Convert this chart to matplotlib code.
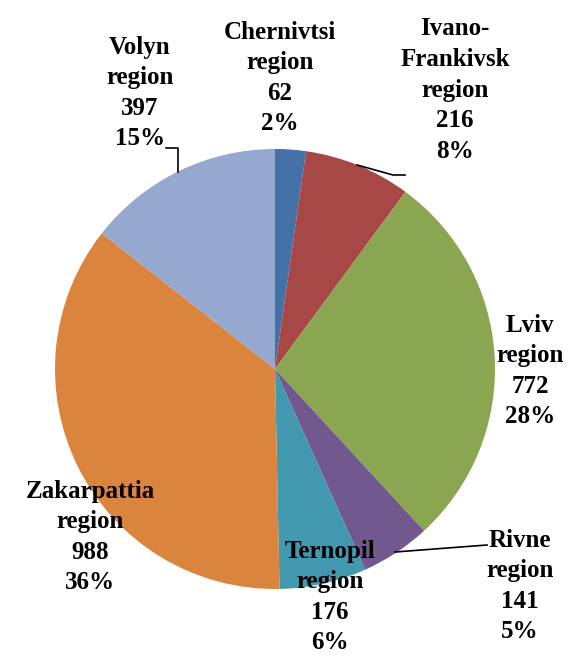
import matplotlib.pyplot as plt

# データ
regions = ['Chernivtsi\nregion', 'Ivano-\nFrankivsk\nregion', 'Lviv\nregion', 'Rivne\nregion',
           'Ternopil\nregion', 'Zakarpattia\nregion', 'Volyn\nregion']
values = [62, 216, 772, 141, 176, 988, 397]
percents = ['2%', '8%', '28%', '5%', '6%', '36%', '15%']
colors = ['#4472A8', '#A84846', '#8BA650', '#71588F', '#4198AF', '#DB843D', '#95A8D0']

# ラベル位置（ピクセル）
label_px = [(280, 78), (455, 90), (530, 371), (520, 586), (330, 597), (90, 537), (140, 93)]

W, H = 586, 657
cx, cy, r = 275, 369, 220

def to_data(px, py):
    return (px - cx) / r, (cy - py) / r

fig = plt.figure(figsize=(W / 100, H / 100), dpi=100)
ax = fig.add_axes([(cx - r) / W, (H - cy - r) / H, 2 * r / W, 2 * r / H])
ax.pie(values, colors=colors, startangle=90, counterclock=False, radius=1,
       wedgeprops={'linewidth': 0})
ax.set_xlim(-1, 1)
ax.set_ylim(-1, 1)
ax.set_aspect('auto')
ax.axis('off')

for name, v, pct, (px, py) in zip(regions, values, percents, label_px):
    x, y = to_data(px, py)
    ax.text(x, y, f'{name}\n{v}\n{pct}', ha='center', va='center', fontsize=18,
            fontweight='bold', family='Liberation Serif', linespacing=1.42, clip_on=False)

# 引き出し線
leaders = [
    [(166, 148), (178, 148), (178, 172)],
    [(357, 165), (393, 175), (405, 175)],
    [(395, 552), (487, 545)],
]
for pts in leaders:
    xs, ys = zip(*[to_data(px, py) for px, py in pts])
    ax.plot(xs, ys, color='black', linewidth=1.2, clip_on=False)

fig.savefig('out.png', dpi=100)
